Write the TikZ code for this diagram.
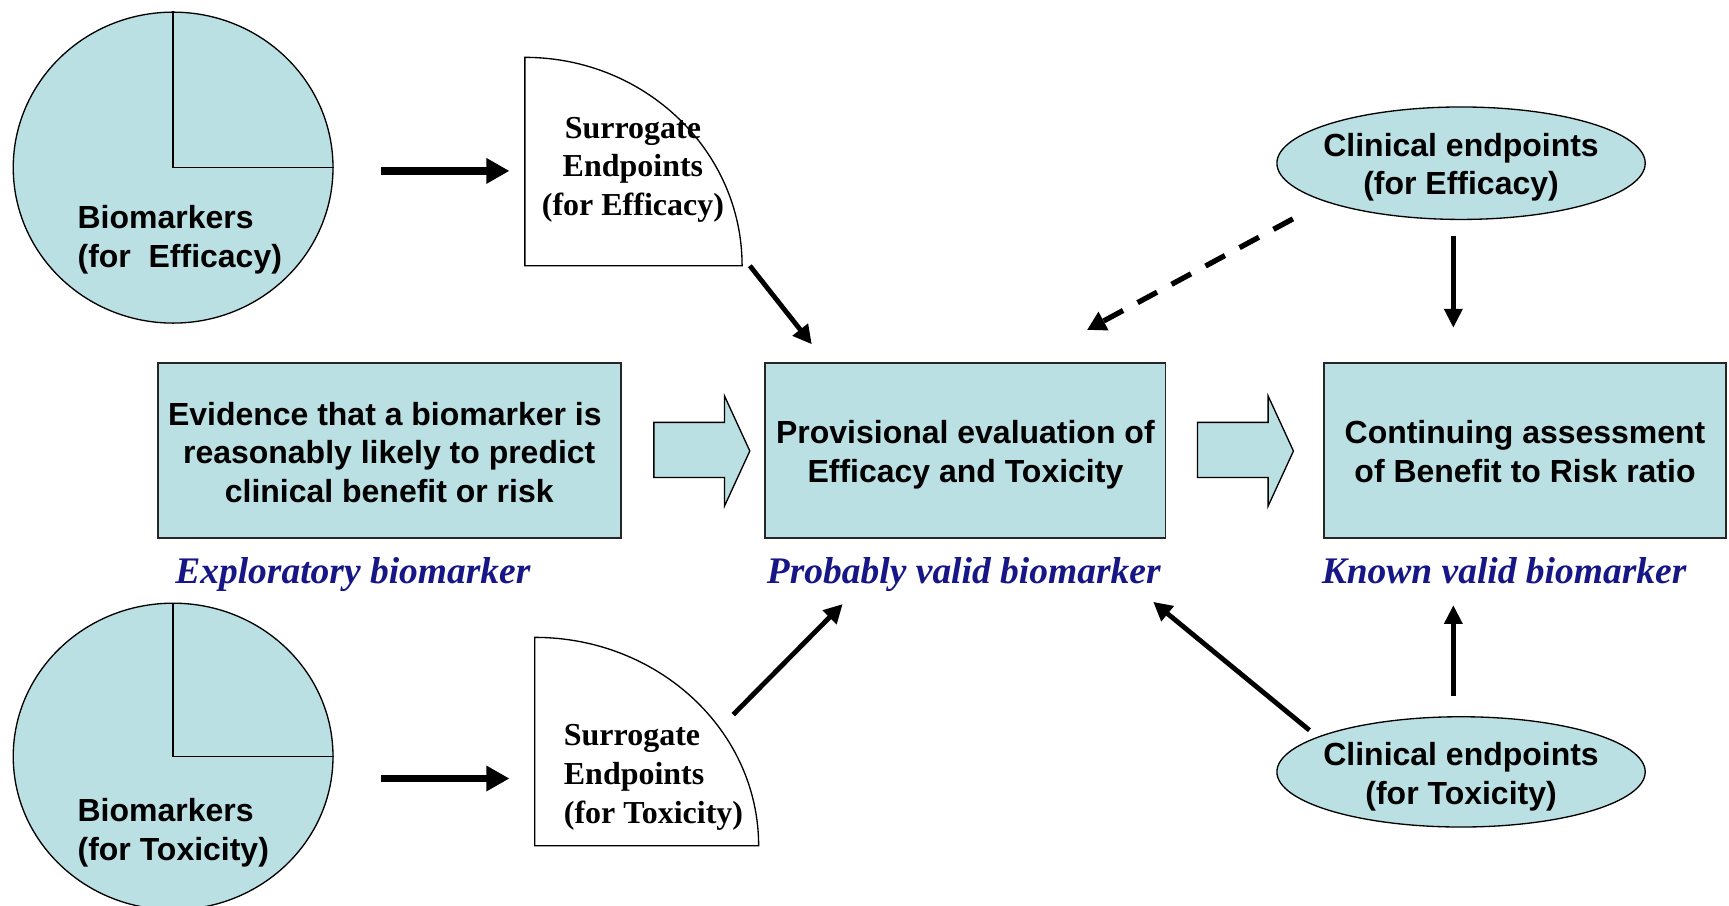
\documentclass[tikz,border=0pt]{standalone}
\usepackage{fontspec}
\setmainfont{Liberation Serif}
\setsansfont{Liberation Sans}
\usetikzlibrary{arrows.meta,shapes.geometric}
\definecolor{paleteal}{RGB}{186,224,227}
\definecolor{labelnavy}{RGB}{22,22,135}
\begin{document}
\begin{tikzpicture}[x=0.5pt,y=-0.5pt,
  txt/.style={font=\sffamily\bfseries\fontsize{14.5}{17.5}\selectfont,align=center,inner sep=0pt},
  stxt/.style={font=\rmfamily\bfseries\fontsize{14.5}{17.5}\selectfont,align=center,inner sep=0pt},
  lbl/.style={font=\rmfamily\bfseries\itshape\fontsize{17}{20}\selectfont,text=labelnavy,inner sep=0pt,anchor=base},
  stage/.style={draw=black!85,line width=0.8pt,fill=paleteal,minimum height=79.5pt,inner sep=0pt},
  pie/.style={ellipse,draw=black,line width=0.6pt,fill=paleteal,inner sep=0pt,minimum width=145pt},
  oval/.style={ellipse,draw=black,line width=0.6pt,fill=paleteal,inner sep=0pt,minimum width=167pt},
  quarter/.style={draw=black,line width=0.6pt,fill=white},
  blockarrow/.style={draw=black,line width=0.6pt,fill=paleteal},
  fat/.style={line width=3.6pt,-{Triangle[length=10.5pt,width=11pt]}},
  mid/.style={line width=2.2pt,-{Triangle[length=8.5pt,width=8.5pt]}},
  thin/.style={line width=2pt,-{Triangle[length=8.5pt,width=8pt]}},
  dashedarrow/.style={line width=2.4pt,dash pattern=on 10pt off 7.5pt,-{Triangle[length=8.5pt,width=9pt]}}
]
\useasboundingbox (0,0) rectangle (1568,821);

% biomarker pies
\node[pie,minimum height=141pt] (bioE) at (157,152) {};
\draw[line width=0.6pt] (bioE.north) -- (bioE.center) -- (bioE.east);
\node[txt,align=left,anchor=west] (bioEtxt) at (70,217.5) {Biomarkers\\(for\ \ Efficacy)};

\node[pie,minimum height=139pt] (bioT) at (157,686) {};
\draw[line width=0.6pt] (bioT.north) -- (bioT.center) -- (bioT.east);
\node[txt,align=left,anchor=west] (bioTtxt) at (70,755) {Biomarkers\\(for Toxicity)};

% surrogate endpoint quarter shapes
\coordinate (sEcorner) at (476,241);
\coordinate (sEtip) at (673,241);
\draw[quarter] (sEcorner) -- ++(0,-189) arc[start angle=90,end angle=0,x radius=98.5pt,y radius=94.5pt] -- cycle;
\node[stxt] (surE) at (574,154) {Surrogate\\Endpoints\\(for Efficacy)};

\coordinate (sTcorner) at (485,767);
\coordinate (sTarc) at (665,648);
\draw[quarter] (sTcorner) -- ++(0,-189) arc[start angle=90,end angle=0,x radius=101.5pt,y radius=94.5pt] -- cycle;
\node[stxt,align=left,anchor=west] (surT) at (511,705) {Surrogate\\Endpoints\\(for Toxicity)};

% stage boxes and their texts
\node[stage,minimum width=210pt] (evid) at (353,408.5) {};
\node[txt] (evidtxt) at ([yshift=-0.8pt]evid.center) {Evidence that a biomarker is\kern4pt\\reasonably likely to predict\\clinical benefit or risk};
\node[stage,minimum width=181.5pt] (prov) at (875.5,408.5) {};
\node[txt] (provtxt) at ([yshift=-2pt]prov.center) {Provisional evaluation of\\Efficacy and Toxicity};
\node[stage,minimum width=182pt] (cont) at (1383,408.5) {};
\node[txt] (conttxt) at ([yshift=-0.6pt]cont.center) {Continuing assessment\\of Benefit to Risk ratio};

% stage labels
\node[lbl] (lblE) at (320,529) {Exploratory biomarker};
\node[lbl] (lblP) at (874,529) {Probably valid biomarker};
\node[lbl] (lblK) at (1364,529) {Known valid biomarker};

% clinical endpoint ovals
\node[oval,minimum height=51pt] (clinE) at (1325,148) {};
\node[txt] (clinEtxt) at ([yshift=-1.8pt]clinE.center) {Clinical endpoints\\(for Efficacy)};
\node[oval,minimum height=50pt] (clinT) at (1325,700) {};
\node[txt] (clinTtxt) at ([yshift=-2.2pt]clinT.center) {Clinical endpoints\\(for Toxicity)};

% block arrows between the stages
\draw[blockarrow] (593,383) -- (657,383) -- (657,359) -- (680,409) -- (657,459) -- (657,433) -- (593,433) -- cycle;
\draw[blockarrow] (1086,383) -- (1150,383) -- (1150,359) -- (1173,409) -- (1150,459) -- (1150,433) -- (1086,433) -- cycle;

% connectors
\draw[fat,shorten <=21.5pt,shorten >=7pt] ([yshift=-1.5pt]bioE.east) -- ([yshift=-1.5pt]bioE.east -| sEcorner);
\draw[fat,shorten <=21.5pt,shorten >=11.5pt] ([yshift=-10pt]bioT.east) -- ([yshift=-10pt]bioT.east -| sTcorner);
\draw[mid] ([xshift=3.5pt]sEtip) -- ([shift={(21.5pt,8pt)}]prov.north west);
\draw[mid] (sTarc) -- ([shift={(35.5pt,-29.5pt)}]prov.south west);
\draw[dashedarrow] ([shift={(-17pt,-7pt)}]clinE.south west) -- ([shift={(-36pt,14.5pt)}]prov.north east);
\draw[thin,shorten <=7pt,shorten >=15.5pt] ([xshift=-3.5pt]clinE.south) -- ([xshift=-3.5pt]clinE.south |- cont.north);
\draw[mid] ([shift={(-9.5pt,1pt)}]clinT.north west) -- ([shift={(-6pt,-28.5pt)}]prov.south east);
\draw[thin,shorten <=9pt,shorten >=30pt] ([xshift=-3.5pt]clinT.north) -- ([xshift=-3.5pt]clinT.north |- cont.south);
\end{tikzpicture}
\end{document}
